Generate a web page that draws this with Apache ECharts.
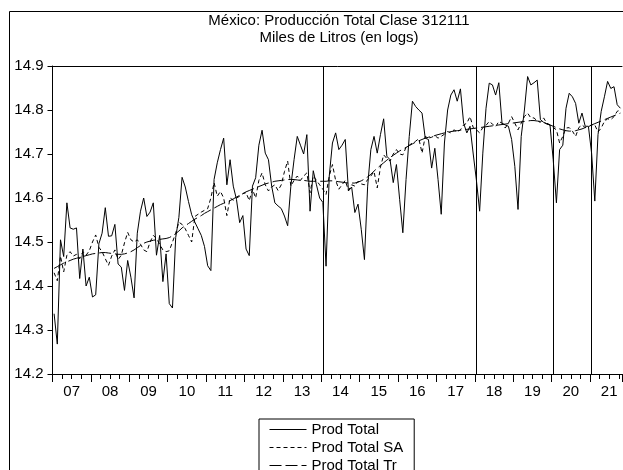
<!DOCTYPE html>
<html><head><meta charset="utf-8">
<script src="https://cdn.jsdelivr.net/npm/echarts@6/dist/echarts.min.js"></script>
<style>html,body{margin:0;padding:0;background:#fff}#c{width:623px;height:470px}</style>
</head><body><div id="c"></div>
<script>
// Monthly data, 2007-01 .. 2021-10
const yearLabels = ['07','08','09','10','11','12','13','14','15','16','17','18','19','20','21'];
const breakMonths = [84, 132, 156, 168]; // month indices of vertical lines
const prodTotal = [
14.337,14.268,14.505,14.467,14.589,14.532,14.529,14.532,14.417,14.484,14.400,14.420,
14.375,14.380,14.496,14.520,14.578,14.513,14.514,14.540,14.450,14.443,14.390,14.458,
14.420,14.373,14.520,14.570,14.600,14.558,14.568,14.589,14.470,14.515,14.410,14.473,
14.360,14.350,14.510,14.556,14.647,14.625,14.592,14.562,14.545,14.530,14.515,14.490,
14.446,14.435,14.642,14.680,14.710,14.736,14.630,14.687,14.627,14.597,14.544,14.560,
14.484,14.469,14.627,14.646,14.720,14.754,14.702,14.687,14.627,14.589,14.582,14.576,
14.559,14.537,14.627,14.687,14.740,14.720,14.700,14.744,14.570,14.662,14.630,14.600,
14.590,14.445,14.650,14.725,14.748,14.710,14.720,14.733,14.616,14.625,14.567,14.586,
14.529,14.460,14.627,14.710,14.740,14.702,14.744,14.780,14.695,14.687,14.635,14.676,
14.597,14.521,14.642,14.740,14.820,14.808,14.800,14.793,14.736,14.733,14.668,14.713,
14.642,14.563,14.725,14.800,14.834,14.846,14.820,14.848,14.770,14.748,14.763,14.700,
14.640,14.570,14.702,14.804,14.861,14.857,14.834,14.862,14.770,14.766,14.763,14.733,
14.672,14.574,14.740,14.800,14.876,14.857,14.862,14.868,14.778,14.772,14.768,14.766,
14.687,14.589,14.710,14.720,14.804,14.838,14.830,14.815,14.770,14.793,14.763,14.763,
14.702,14.593,14.744,14.797,14.830,14.865,14.849,14.853,14.812,14.804
];
const prodTotalSA = [
14.430,14.412,14.468,14.432,14.470,14.478,14.468,14.472,14.462,14.478,14.470,14.480,
14.500,14.516,14.488,14.478,14.462,14.447,14.468,14.482,14.460,14.470,14.498,14.522,
14.505,14.500,14.505,14.495,14.482,14.478,14.500,14.515,14.508,14.495,14.482,14.478,
14.480,14.500,14.520,14.545,14.540,14.530,14.515,14.500,14.558,14.563,14.568,14.572,
14.576,14.600,14.635,14.604,14.615,14.600,14.560,14.600,14.595,14.600,14.604,14.610,
14.612,14.594,14.620,14.600,14.640,14.657,14.630,14.616,14.625,14.630,14.617,14.630,
14.660,14.684,14.627,14.640,14.650,14.640,14.650,14.657,14.612,14.650,14.640,14.630,
14.620,14.608,14.650,14.676,14.640,14.620,14.630,14.640,14.617,14.630,14.627,14.638,
14.632,14.630,14.642,14.650,14.660,14.623,14.670,14.698,14.690,14.684,14.700,14.710,
14.700,14.698,14.715,14.720,14.725,14.729,14.735,14.702,14.740,14.736,14.738,14.742,
14.736,14.740,14.745,14.751,14.748,14.755,14.750,14.755,14.766,14.770,14.785,14.760,
14.755,14.748,14.760,14.765,14.774,14.768,14.762,14.774,14.770,14.759,14.770,14.785,
14.770,14.755,14.770,14.785,14.793,14.782,14.782,14.775,14.772,14.782,14.770,14.766,
14.760,14.755,14.725,14.740,14.759,14.760,14.752,14.740,14.760,14.766,14.760,14.762,
14.766,14.766,14.750,14.759,14.774,14.780,14.778,14.785,14.797,14.800
];
const prodTotalTr = [
14.440,14.444,14.448,14.452,14.455,14.458,14.461,14.463,14.465,14.467,14.469,14.471,
14.473,14.474,14.475,14.476,14.476,14.475,14.474,14.473,14.472,14.472,14.473,14.475,
14.478,14.482,14.487,14.492,14.497,14.500,14.502,14.504,14.505,14.506,14.507,14.508,
14.510,14.514,14.519,14.525,14.532,14.537,14.542,14.547,14.552,14.556,14.560,14.565,
14.569,14.573,14.577,14.581,14.585,14.588,14.591,14.594,14.598,14.602,14.606,14.610,
14.614,14.617,14.620,14.623,14.626,14.629,14.632,14.634,14.636,14.638,14.639,14.640,
14.641,14.642,14.642,14.642,14.641,14.640,14.640,14.639,14.638,14.638,14.638,14.638,
14.638,14.638,14.639,14.639,14.638,14.637,14.636,14.635,14.634,14.634,14.634,14.636,
14.639,14.643,14.648,14.654,14.661,14.668,14.674,14.680,14.686,14.692,14.697,14.702,
14.707,14.711,14.715,14.719,14.723,14.727,14.730,14.733,14.736,14.738,14.740,14.742,
14.744,14.746,14.748,14.750,14.751,14.752,14.753,14.754,14.755,14.756,14.757,14.758,
14.759,14.760,14.761,14.762,14.763,14.764,14.765,14.766,14.767,14.768,14.769,14.770,
14.771,14.772,14.773,14.774,14.775,14.776,14.776,14.775,14.774,14.772,14.769,14.766,
14.763,14.760,14.757,14.755,14.753,14.752,14.752,14.753,14.755,14.757,14.760,14.763,
14.766,14.769,14.772,14.775,14.778,14.781,14.784,14.787,14.790,14.793
];

const nMonths = prodTotal.length;
const toPts = arr => arr.map((v, i) => [i + 0.5, v]);
const font = 'Liberation Sans, Arial, sans-serif';

const chart = echarts.init(document.getElementById('c'), null, {renderer: 'canvas'});
chart.setOption({
  animation: false,
  backgroundColor: '#fff',
  grid: {left: 52.5, top: 66, right: 1, height: 308, containLabel: false},
  graphic: [
    {type: 'line', shape: {x1: 9.5, y1: 11.5, x2: 623, y2: 11.5}, style: {stroke: '#000', lineWidth: 1}},
    {type: 'line', shape: {x1: 9.5, y1: 11.5, x2: 9.5, y2: 470}, style: {stroke: '#000', lineWidth: 1}},
    {type: 'text', x: 339, y: 12,
     style: {text: 'México: Producción Total Clase 312111\nMiles de Litros (en logs)', textAlign: 'center',
             textVerticalAlign: 'top', font: '15px ' + font, fill: '#000', lineHeight: 17}}
  ],
  xAxis: [
    {type: 'value', min: 0, max: nMonths, interval: 3, position: 'bottom',
     axisLine: {show: true, lineStyle: {color: '#000', width: 1}},
     axisTick: {show: true, length: 5, lineStyle: {color: '#000'}},
     splitLine: {show: false},
     axisLabel: {show: true, margin: 10, color: '#000', fontSize: 15, fontFamily: font,
       showMinLabel: false, showMaxLabel: false,
       formatter: v => (v % 12 === 6 ? (yearLabels[(v - 6) / 12] || '') : '')}},
    {type: 'value', min: 0, max: nMonths, interval: 12, position: 'bottom',
     axisLine: {show: false}, axisTick: {show: true, length: 8, lineStyle: {color: '#000'}},
     axisLabel: {show: false}, splitLine: {show: false}},
    {type: 'value', min: 0, max: nMonths, position: 'top',
     axisLine: {show: true, lineStyle: {color: '#000', width: 1}}, axisTick: {show: false},
     axisLabel: {show: false}, splitLine: {show: false}}
  ],
  yAxis: {type: 'value', min: 14.2, max: 14.9, interval: 0.1,
    axisLine: {show: true, lineStyle: {color: '#000', width: 1}},
    axisTick: {show: true, length: 5, lineStyle: {color: '#000'}},
    splitLine: {show: false},
    axisLabel: {margin: 9, color: '#000', fontSize: 15, fontFamily: font, formatter: v => v.toFixed(1)}},
  legend: {
    left: 259, top: 419, height: 120, orient: 'vertical', padding: [3, 11, 5, 10],
    borderColor: '#000', borderWidth: 1, backgroundColor: '#fff',
    itemWidth: 37, itemHeight: 14, itemGap: 3, itemStyle: {opacity: 0},
    lineStyle: {width: 1},
    textStyle: {color: '#000', fontSize: 15, fontFamily: font},
    data: ['Prod Total', 'Prod Total SA', 'Prod Total Tr']
  },
  series: [
    {name: 'Prod Total', type: 'line', data: toPts(prodTotal), symbol: 'none',
     lineStyle: {color: '#000', width: 1, type: 'solid'}, itemStyle: {color: '#000'},
     markLine: {silent: true, symbol: 'none', label: {show: false},
       lineStyle: {color: '#000', width: 1, type: 'solid'},
       data: breakMonths.map(m => ({xAxis: m + 0.5}))}},
    {name: 'Prod Total SA', type: 'line', data: toPts(prodTotalSA), symbol: 'none',
     lineStyle: {color: '#000', width: 1, type: [4, 3]}, itemStyle: {color: '#000'}},
    {name: 'Prod Total Tr', type: 'line', data: toPts(prodTotalTr), symbol: 'none',
     lineStyle: {color: '#000', width: 1, type: [12, 4]}, itemStyle: {color: '#000'}}
  ]
});
</script></body></html>
